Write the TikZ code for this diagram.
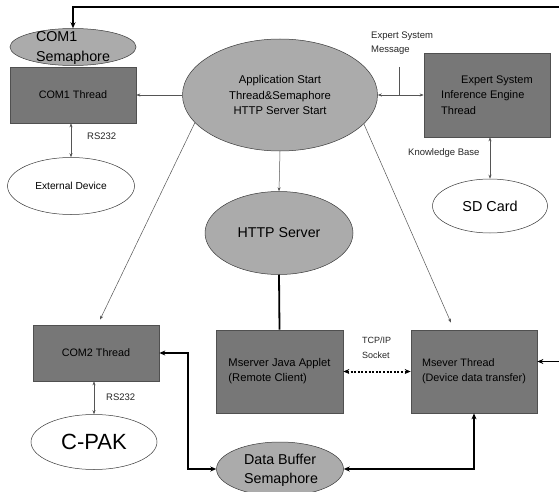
\documentclass[tikz,border=0pt]{standalone}
\usepackage{fontspec}
\setmainfont{Liberation Sans}
\usetikzlibrary{arrows.meta,shapes.geometric}
\newcommand\fsz[2]{\fontsize{#1}{#2}\selectfont}
\definecolor{boxfill}{HTML}{777777}
\definecolor{boxline}{HTML}{505050}
\definecolor{ellfill}{HTML}{ABABAB}
\definecolor{ellline}{HTML}{3A3A3A}
\definecolor{thinline}{HTML}{555555}
\begin{document}
\begin{tikzpicture}[x=1pt,y=-1pt,
  box/.style={rectangle, draw=boxline, fill=boxfill, line width=0.7pt, minimum width=126pt, inner sep=0pt, text=black},
  gell/.style={ellipse, draw=ellline, fill=ellfill, line width=0.5pt, inner sep=0pt},
  well/.style={ellipse, draw=ellline, fill=white, line width=0.5pt, inner sep=0pt},
  lbl/.style={inner sep=0pt, text=black!85},
  elltext/.style={inner sep=0pt, text=black},
  thinarrow/.style={draw=thinline, line width=0.5pt, -{Stealth[length=4pt,width=3pt]}},
  thinboth/.style={draw=thinline, line width=0.5pt, {Stealth[length=4pt,width=3pt]}-{Stealth[length=4pt,width=3pt]}},
  thickboth/.style={draw=black, line width=1.8pt, {Stealth[length=6pt,width=5pt]}-{Stealth[length=6pt,width=5pt]}},
  thickline/.style={draw=black, line width=1.8pt}]
\fill[white] (0,0) rectangle (559,492);
\useasboundingbox (0,0) rectangle (559,492);

% ellipses
\node[gell, minimum width=126pt, minimum height=37pt] (sem1) at (73,47) {};
\node[elltext, align=left, font=\fsz{14.3}{20}] (sem1t) at (73,47.5) {COM1\\Semaphore};
\node[gell, minimum width=195pt, minimum height=112pt, align=center, font=\fsz{11.3}{15.5}] (app) at (280,95) {Application Start\\Thread\&Semaphore\\HTTP Server Start};
\node[gell, minimum width=148pt, minimum height=83pt, font=\fsz{14.2}{17}] (http) at (279,233) {HTTP Server};
\node[well, minimum width=127pt, minimum height=57pt, font=\fsz{10.2}{12}] (ext) at (71,186) {External Device};
\node[well, minimum width=115pt, minimum height=54pt, font=\fsz{14.4}{17}] (sd) at (490,206) {SD Card};
\node[well, minimum width=126pt, minimum height=55pt, font=\fsz{22}{26}] (cpak) at (94,442) {C-PAK};
\node[gell, minimum width=127pt, minimum height=54pt] (buf) at (280,469) {};
\node[elltext, align=left, font=\fsz{14.3}{19}] (buft) at (281,470) {Data Buffer\\Semaphore};

% boxes
\node[box, minimum height=56pt, font=\fsz{10.8}{13}] (com1) at (73,95) {COM1 Thread};
\node[box, minimum height=84pt, align=left, font=\fsz{11}{15.5}] (expert) at (487,95) {\hspace*{20pt}Expert System\\Inference Engine\\Thread};
\node[box, minimum height=56pt, font=\fsz{10.8}{13}] (com2) at (96,353) {COM2 Thread};
\node[box, minimum width=127pt, minimum height=83pt, align=left, font=\fsz{11.2}{15}] (mjava) at (279.5,371.5) {Mserver Java Applet\\(Remote Client)};
\node[box, minimum height=83pt, align=left, font=\fsz{10.8}{15}] (msever) at (474,371.5) {Msever Thread\\(Device data transfer)};

% labels
\node[lbl, anchor=west, align=left, font=\fsz{9.5}{14}] (esmlbl) at (371,43) {Expert System\\Message};
\node[lbl, anchor=west, font=\fsz{9.5}{11}] (kblbl) at (408,153) {Knowledge Base};
\node[lbl, anchor=west, font=\fsz{9.5}{11}] (rs1) at (87,136) {RS232};
\node[lbl, anchor=west, font=\fsz{9.5}{11}] (rs2) at (106,397) {RS232};
\node[lbl, anchor=west, align=left, font=\fsz{9}{15}] (tcplbl) at (362,347.5) {TCP/IP\\Socket};

% coordinates
\coordinate (esm) at (399,67);
\coordinate (loopc) at (575,7);

% thin connectors
\draw[thinarrow] (app.west) -- (com1.east);
\draw[thinboth] (app.east) -- (expert.west);
\draw[draw=thinline, line width=0.5pt] (esm) -- (esm |- app.east);
\draw[thinboth] (ext.north) -- (ext.north |- com1.south);
\draw[thinboth] (sd.north) -- (sd.north |- expert.south);
\draw[thinarrow] (app.south) -- (http.north);
\draw[thinarrow] (app.198) -- ([xshift=4pt,yshift=5pt]com2.north);
\draw[thinarrow] (app.341) -- ([xshift=-23pt,yshift=7pt]msever.north);
\draw[thinboth] (cpak.north) -- (cpak.north |- com2.south);

% thick connectors
\draw[thickline] (http.south) -- (mjava.north);
\draw[thickboth] (com2.east) -- ++(29,0) |- (buf.west);
\draw[thickboth] (buf.east) -| (msever.south);
\draw[thickboth] (sem1.north) |- (loopc) |- ([yshift=10pt]msever.east);
\draw[draw=black, line width=2pt, dash pattern=on 2pt off 1.6pt, {Stealth[length=6pt,width=5pt]}-{Stealth[length=6pt,width=5pt]}] (mjava.east) -- (msever.west);
\end{tikzpicture}
\end{document}
